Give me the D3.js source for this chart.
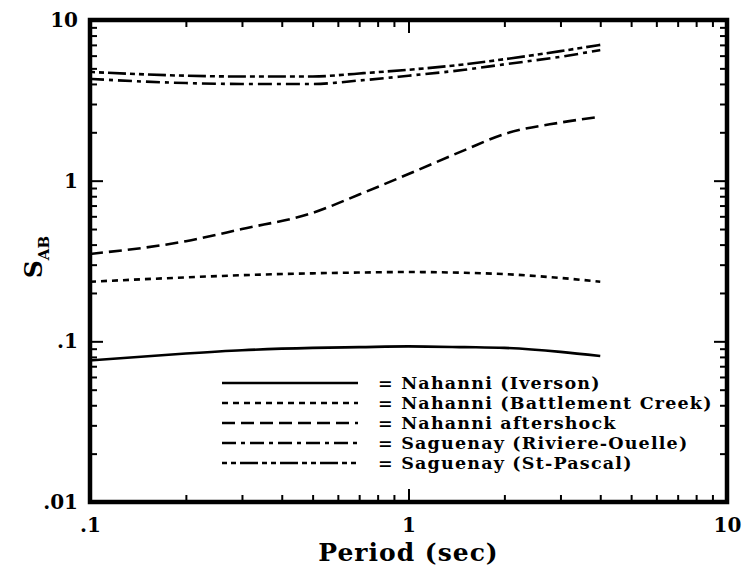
<!DOCTYPE html>
<html>
<head>
<meta charset="utf-8">
<script src="https://cdn.jsdelivr.net/npm/d3@7"></script>
<style>
  body { margin: 0; background: #fff; }
  text { font-family: "DejaVu Serif", serif; font-weight: bold; fill: #000; }
</style>
</head>
<body>
<svg id="chart" width="748" height="576"></svg>
<script>
// periods (sec) where each spectrum was read
const periods = [0.1, 0.2, 0.3, 0.5, 0.7, 1, 1.5, 2, 3, 4];

// S_AB values per record
const iverson     = [0.076, 0.084, 0.088, 0.091, 0.092, 0.093, 0.092, 0.091, 0.086, 0.081];
const battlement  = [0.235, 0.25, 0.258, 0.265, 0.268, 0.27, 0.267, 0.262, 0.248, 0.235];
const aftershock  = [0.35, 0.42, 0.5, 0.63, 0.82, 1.1, 1.55, 1.95, 2.3, 2.5];
const riviere     = [4.3, 4.05, 4.0, 4.0, 4.2, 4.5, 4.9, 5.3, 5.9, 6.5];
const stPascal    = [4.75, 4.5, 4.45, 4.45, 4.65, 4.9, 5.3, 5.7, 6.4, 7.0];

const seriesNames = [
  "= Nahanni (Iverson)",
  "= Nahanni (Battlement Creek)",
  "= Nahanni aftershock",
  "= Saguenay (Riviere-Ouelle)",
  "= Saguenay (St-Pascal)"
];
const seriesValues = [iverson, battlement, aftershock, riviere, stPascal];
const dashes = ["none", "6,5", "13,6", "14,5,4,5", "5,4,5,4,18,4"];

const xTickLabels = [".1", "1", "10"];
const yTickLabels = [".01", ".1", "1", "10"];

const margin = {top: 20, right: 21, bottom: 74, left: 90};
const width = 748 - margin.left - margin.right;
const height = 576 - margin.top - margin.bottom;

const svg = d3.select("#chart");
const chart = svg.append("g")
  .attr("transform", `translate(${margin.left},${margin.top})`);

const x = d3.scaleLog().domain([0.1, 10]).range([0, width]);
const y = d3.scaleLog().domain([0.01, 10]).range([height, 0]);

const xMajor = [0.1, 1, 10];
const yMajor = [0.01, 0.1, 1, 10];
const minorOf = dom => x.copy().domain(dom).ticks().filter(v => !xMajor.concat(yMajor).includes(+v.toPrecision(3)));
const xMinor = minorOf([0.1, 10]);
const yMinor = minorOf([0.01, 10]);

function styleAxis(g) {
  g.select(".domain").remove();
  g.selectAll(".tick line").attr("stroke", "#000").attr("stroke-width", 2);
}

// bottom axis: labels outside, ticks inward
chart.append("g").attr("transform", `translate(0,${height})`)
  .call(d3.axisBottom(x).tickValues(xMajor).tickSize(-13).tickPadding(12)
    .tickFormat((d, i) => xTickLabels[i]))
  .call(styleAxis)
  .selectAll("text").attr("font-size", 20).attr("dy", "0.9em");
chart.append("g").attr("transform", `translate(0,${height})`)
  .call(d3.axisBottom(x).tickValues(xMinor).tickSize(-7).tickFormat(""))
  .call(styleAxis);

// top axis
chart.append("g")
  .call(d3.axisTop(x).tickValues(xMajor).tickSize(-13).tickFormat(""))
  .call(styleAxis);
chart.append("g")
  .call(d3.axisTop(x).tickValues(xMinor).tickSize(-7).tickFormat(""))
  .call(styleAxis);

// left axis
chart.append("g")
  .call(d3.axisLeft(y).tickValues(yMajor).tickSize(-13).tickPadding(12)
    .tickFormat((d, i) => yTickLabels[i]))
  .call(styleAxis)
  .selectAll("text").attr("font-size", 20);
chart.append("g")
  .call(d3.axisLeft(y).tickValues(yMinor).tickSize(-7).tickFormat(""))
  .call(styleAxis);

// right axis
chart.append("g").attr("transform", `translate(${width},0)`)
  .call(d3.axisRight(y).tickValues(yMajor).tickSize(-13).tickFormat(""))
  .call(styleAxis);
chart.append("g").attr("transform", `translate(${width},0)`)
  .call(d3.axisRight(y).tickValues(yMinor).tickSize(-7).tickFormat(""))
  .call(styleAxis);

// frame
chart.append("rect")
  .attr("width", width).attr("height", height)
  .attr("fill", "none").attr("stroke", "#000").attr("stroke-width", 4.5);

// curves
const line = d3.line()
  .x((d, i) => x(periods[i]))
  .y(d => y(d))
  .curve(d3.curveMonotoneX);

chart.selectAll(".series")
  .data(seriesValues)
  .join("path")
  .attr("class", "series")
  .attr("d", d => line(d))
  .attr("fill", "none")
  .attr("stroke", "#000")
  .attr("stroke-width", 2.6)
  .attr("stroke-dasharray", (d, i) => dashes[i]);

// legend
const legend = chart.append("g").attr("transform", "translate(132,363)");
seriesNames.forEach((name, i) => {
  const row = legend.append("g").attr("transform", `translate(0,${i * 20})`);
  row.append("line")
    .attr("x1", 0).attr("x2", 136)
    .attr("stroke", "#000").attr("stroke-width", 2.6)
    .attr("stroke-dasharray", dashes[i]);
  row.append("text")
    .attr("x", 156).attr("dy", "0.35em")
    .attr("font-size", 17.5)
    .attr("letter-spacing", 1.2)
    .text(name);
});

// axis titles
svg.append("text")
  .attr("x", margin.left + x(1)).attr("y", 561)
  .attr("text-anchor", "middle")
  .attr("font-size", 25)
  .attr("letter-spacing", 1)
  .text("Period (sec)");

const yTitle = svg.append("text")
  .attr("transform", `translate(42,${margin.top + height / 2 - 4}) rotate(-90)`)
  .attr("text-anchor", "middle")
  .attr("font-size", 25);
yTitle.append("tspan").text("S");
yTitle.append("tspan").attr("font-size", 15).attr("dy", 7).text("AB");
</script>
</body>
</html>
